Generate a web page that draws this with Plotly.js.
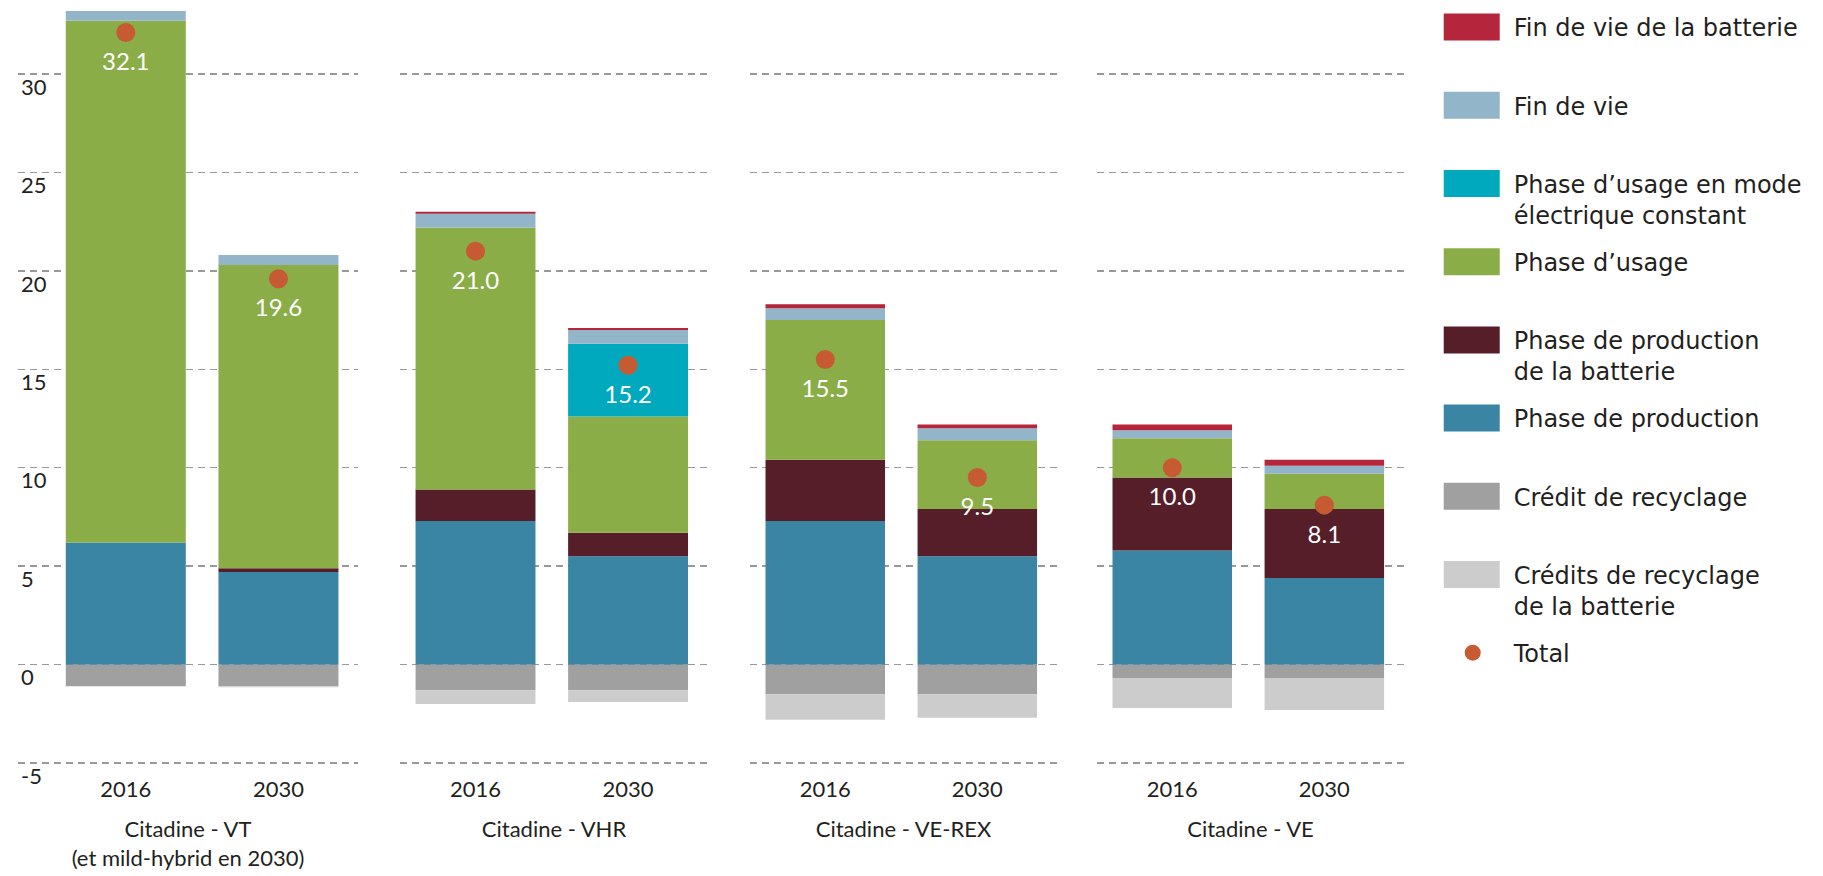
<!DOCTYPE html>
<html><head><meta charset="utf-8">
<script src="https://cdn.plot.ly/plotly-3.0.1.min.js"></script>
<style>html,body{margin:0;padding:0;background:#fff}#chart{width:1823px;height:876px}</style>
</head><body><div id="chart"></div>
<script>
// Categories
const groups = ['Citadine - VT<br>(et mild-hybrid en 2030)', 'Citadine - VHR', 'Citadine - VE-REX', 'Citadine - VE'];
const years = ['2016', '2030'];
// Values, order: VT16, VT30, VHR16, VHR30, REX16, REX30, VE16, VE30
const production        = [6.2, 4.7, 7.3, 5.5, 7.3, 5.5, 5.8, 4.4];
const batteryProduction = [0.0, 0.2, 1.6, 1.2, 3.1, 2.4, 3.7, 3.5];
const usage             = [26.5, 15.4, 13.3, 5.9, 7.1, 3.5, 2.0, 1.8];
const electricUsage     = [0.0, 0.0, 0.0, 3.7, 0.0, 0.0, 0.0, 0.0];
const endOfLife         = [0.5, 0.5, 0.7, 0.7, 0.6, 0.6, 0.4, 0.4];
const batteryEndOfLife  = [0.0, 0.0, 0.1, 0.1, 0.2, 0.2, 0.3, 0.3];
const recyclingCredit   = [-1.1, -1.1, -1.3, -1.3, -1.5, -1.5, -0.7, -0.7];
const batteryRecyclingCredit = [0.0, -0.05, -0.7, -0.6, -1.3, -1.2, -1.5, -1.6];
const totals            = [32.1, 19.6, 21.0, 15.2, 15.5, 9.5, 10.0, 8.1];
const yTicks            = [-5, 0, 5, 10, 15, 20, 25, 30];
const yTickLabels       = ['-5', '0', '5', '10', '15', '20', '25', '30'];

// Series names (legend)
const nProduction = 'Phase de production';
const nBatteryProduction = 'Phase de production<br>de la batterie';
const nUsage = 'Phase d\u2019usage';
const nElectric = 'Phase d\u2019usage en mode<br>électrique constant';
const nEndOfLife = 'Fin de vie';
const nBatteryEndOfLife = 'Fin de vie de la batterie';
const nCredit = 'Crédit de recyclage';
const nBatteryCredit = 'Crédits de recyclage<br>de la batterie';
const nTotal = 'Total';

const FONT = 'Lato, "Open Sans", sans-serif';
const LEGFONT = '"DejaVu Sans", sans-serif';
const TXT = '#231f20';
const FS = 22;

// stacking order (bottom to top, then negatives), with legend rank and colour
const series = [
  {name: nProduction, vals: production, color: '#3a84a4', rank: 6},
  {name: nBatteryProduction, vals: batteryProduction, color: '#561e29', rank: 5},
  {name: nUsage, vals: usage, color: '#8aad47', rank: 4},
  {name: nElectric, vals: electricUsage, color: '#00a9bd', rank: 3},
  {name: nEndOfLife, vals: endOfLife, color: '#93b5c9', rank: 2},
  {name: nBatteryEndOfLife, vals: batteryEndOfLife, color: '#b5253b', rank: 1},
  {name: nCredit, vals: recyclingCredit, color: '#a0a0a0', rank: 7},
  {name: nBatteryCredit, vals: batteryRecyclingCredit, color: '#cccccc', rank: 8}
];

function legendName(n) { return n.indexOf('<br>') >= 0 ? n : n + '<br>\u00a0'; }

const traces = [];
groups.forEach((g, gi) => {
  const xa = gi === 0 ? 'x' : 'x' + (gi + 1);
  series.forEach(s => {
    traces.push({
      type: 'bar', x: years, y: s.vals.slice(2 * gi, 2 * gi + 2),
      xaxis: xa, yaxis: 'y',
      name: legendName(s.name), legendgroup: s.name, legendrank: s.rank,
      showlegend: gi === 0,
      marker: {color: s.color, line: {width: 0}},
      hoverinfo: 'skip'
    });
  });
  const t = totals.slice(2 * gi, 2 * gi + 2);
  // total dots
  traces.push({
    type: 'scatter', mode: 'markers', x: years, y: t,
    xaxis: xa, yaxis: 'y',
    name: legendName(nTotal), legendgroup: nTotal, legendrank: 9,
    showlegend: gi === 0,
    marker: {color: '#c65a32', size: 19},
    cliponaxis: false, hoverinfo: 'skip'
  });
  // total value labels (below the dots)
  traces.push({
    type: 'scatter', mode: 'markers+text', x: years, y: t,
    xaxis: xa, yaxis: 'y',
    name: nTotal, legendgroup: nTotal, showlegend: false,
    text: t.map(v => v.toFixed(1)), textposition: 'bottom center',
    textfont: {family: FONT, size: 24, color: '#ffffff'},
    marker: {color: 'rgba(0,0,0,0)', size: 30},
    cliponaxis: false, hoverinfo: 'skip'
  });
});

const L = 18, R = 1823 - 1404;
const W = 1823 - L - R;
const dom = [[18, 358], [400, 708], [750, 1057], [1097, 1404]].map(d => [(d[0] - L) / W, (d[1] - L) / W]);
const ranges = [[-0.706, 1.521], [-0.495, 1.524], [-0.495, 1.524], [-0.495, 1.524]];
const standoffs = [20, 20, 20, 20];

const layout = {
  width: 1823, height: 876,
  margin: {l: L, r: R, t: 5, b: 107},
  paper_bgcolor: '#ffffff', plot_bgcolor: 'rgba(0,0,0,0)',
  font: {family: FONT, size: FS, color: TXT},
  barmode: 'relative', bargap: 0.214,
  showlegend: true,
  legend: {
    x: 1.02, xanchor: 'left', y: 1, yanchor: 'top',
    traceorder: 'grouped', valign: 'top', tracegroupgap: 12.8,
    itemwidth: 72, font: {family: LEGFONT, size: 24, color: TXT},
    bgcolor: 'rgba(0,0,0,0)'
  },
  yaxis: {
    range: [-5.3, 33.5], tickmode: 'array', tickvals: yTicks, ticktext: yTickLabels,
    showgrid: true, gridcolor: '#999999', griddash: '7px,5px', gridwidth: 1.5,
    zeroline: false, showline: false, ticks: '',
    ticklabelposition: 'inside', ticklabelshift: 13, ticklabelstandoff: 0,
    ticklabeloverflow: 'allow',
    tickfont: {family: FONT, size: FS, color: TXT}, fixedrange: true
  }
};
groups.forEach((g, gi) => {
  const key = gi === 0 ? 'xaxis' : 'xaxis' + (gi + 1);
  layout[key] = {
    type: 'category', categoryarray: years, categoryorder: 'array',
    domain: dom[gi], range: ranges[gi], anchor: 'y',
    showgrid: false, zeroline: false, showline: false, ticks: '',
    ticklabelstandoff: 5,
    tickfont: {family: FONT, size: FS, color: TXT},
    title: {text: g, font: {family: FONT, size: FS, color: TXT}, standoff: standoffs[gi]},
    fixedrange: true
  };
});

// wider legend swatches, like the original's colour keys
function widenSwatches() {
  const gd = document.getElementById('chart');
  gd.querySelectorAll('g.legend g.legendpoints path').forEach(p => {
    const d = p.getAttribute('d') || '';
    if (p.classList.contains('legendbar') || d.indexOf('M6,6H-6V-6H6Z') === 0) {
      p.setAttribute('d', 'M27,13.5H-29V-13.5H27Z');
      p.style.strokeWidth = '0px';
    }
  });
}
const gdiv = document.getElementById('chart');
Plotly.newPlot(gdiv, traces, layout, {staticPlot: true, displayModeBar: false}).then(() => {
  widenSwatches();
  gdiv.on('plotly_afterplot', widenSwatches);
  setTimeout(widenSwatches, 0);
  setTimeout(widenSwatches, 200);
});
</script>
</body></html>
